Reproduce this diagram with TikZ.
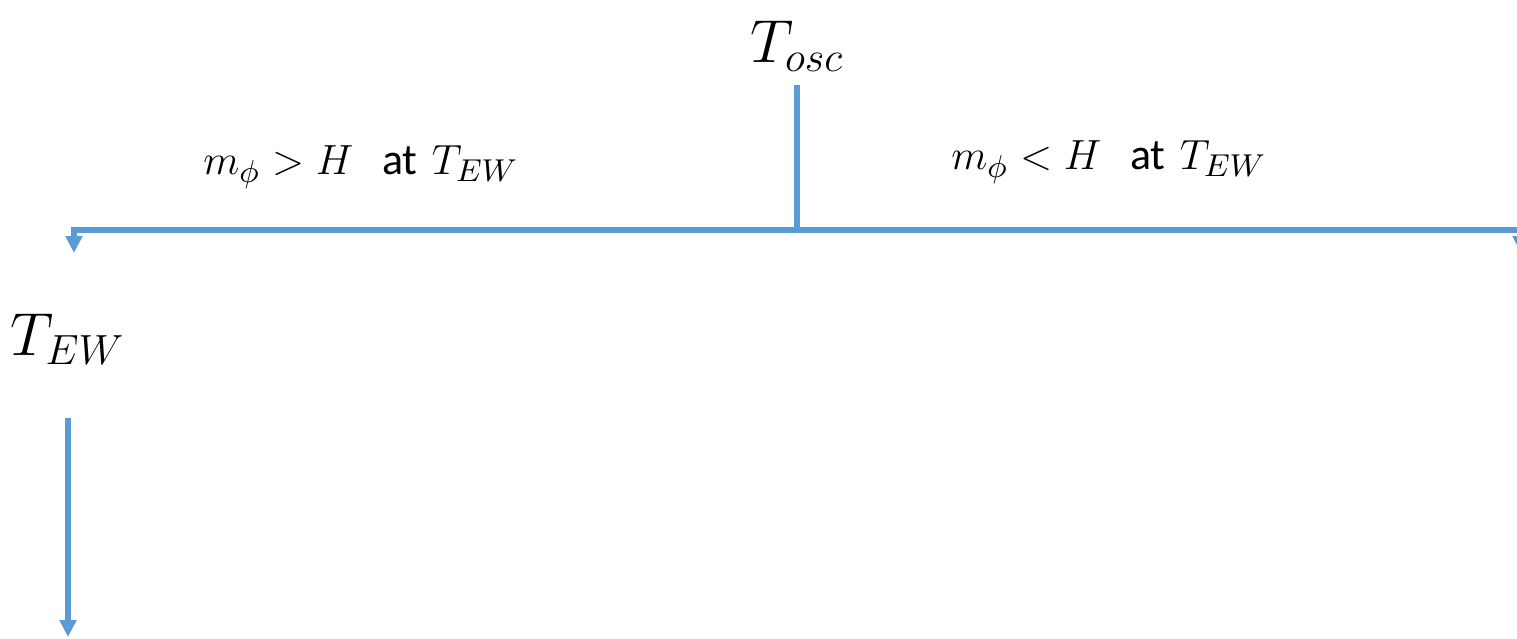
\documentclass[tikz,border=0pt]{standalone}
\usepackage{amsmath,amssymb}
\usepackage{fontspec}
\newfontfamily\labelfont{Carlito}
\usetikzlibrary{arrows.meta}
\definecolor{lineblue}{RGB}{91,155,213}
\tikzset{
  flow/.style={lineblue, line width=1.7pt, -{Triangle[width=4.6pt,length=4.8pt]}},
  trunk/.style={lineblue, line width=1.7pt},
  bigtemp/.style={inner sep=0pt, font=\fontsize{17.6}{21}\selectfont},
  cond/.style={inner sep=0pt, font=\fontsize{12.5}{15}\selectfont}
}
\begin{document}
\begin{tikzpicture}
\useasboundingbox (0,0) rectangle (15.17,6.39);
% temperatures
\node[bigtemp] (tosc) at (7.97,5.93) {$T_{osc}$};
\node[bigtemp] (tew) at (0.68,3.00) {$T_{EW}$};
% branch labels
\node[cond] (big) at (3.61,4.72) {$m_{\phi} > H$\ \ {\labelfont at} $T_{EW}$};
\node[cond] (small) at (11.09,4.77) {$m_{\phi} < H$\ \ {\labelfont at} $T_{EW}$};
% junction and corners
\coordinate (top) at (7.97,5.54);
\coordinate (junc) at (7.97,4.09);
\coordinate (lcorner) at (0.74,4.09);
\coordinate (rcorner) at (15.21,4.09);
\coordinate (ltip) at (0.74,3.86);
\coordinate (rtip) at (15.21,3.86);
\coordinate (tewout) at (0.68,2.21);
\coordinate (bottom) at (0.68,0.02);

\draw[trunk] (top) -- (junc);
\draw[flow] (junc) -- (lcorner) -- (ltip);
\draw[flow] (junc) -- (rcorner) -- (rtip);
\draw[flow] (tewout) -- (bottom);
\end{tikzpicture}
\end{document}
